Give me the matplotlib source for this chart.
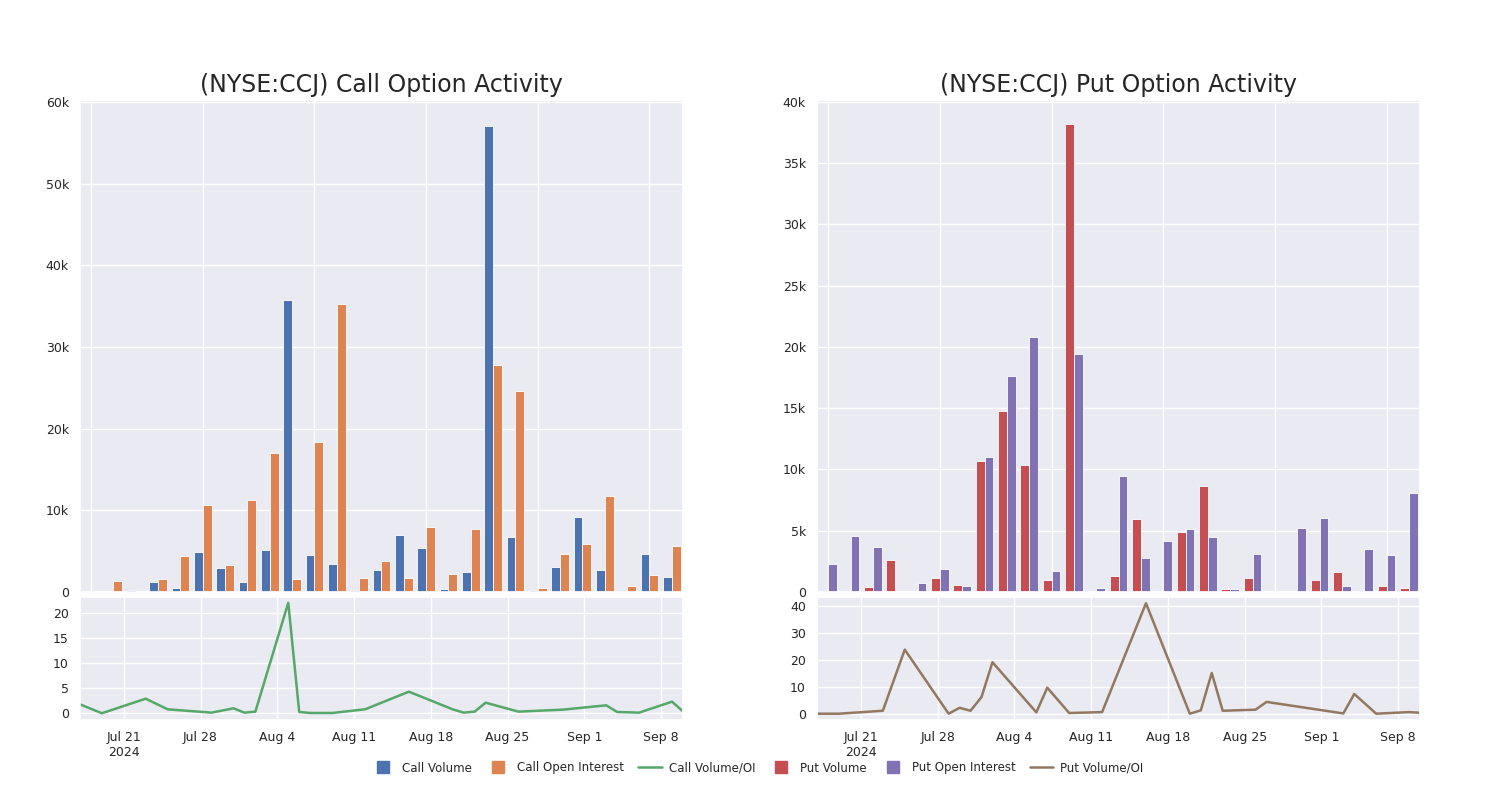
import matplotlib
matplotlib.use("Agg")
import matplotlib.pyplot as plt
import matplotlib.dates as mdates
from matplotlib.lines import Line2D
import numpy as np
import pandas as pd
import seaborn as sns

sns.set_theme(style="darkgrid")
plt.rcParams['font.family'] = ['DejaVu Sans']

# ---------------- data ----------------
n_cat = 27
call_volume = [50, 0, 250, 1200, 500, 4900, 3000, 1200, 5200, 35800, 4500, 3400, 200, 2700,
               7000, 5400, 400, 2500, 57100, 6700, 200, 3100, 9200, 2700, 50, 4650, 1800]
call_oi = [30, 1300, 100, 1550, 4400, 10600, 3300, 11300, 17000, 1600, 18400, 35300, 1750, 3800,
           1700, 7900, 2200, 7750, 27750, 24600, 500, 4600, 5900, 11700, 700, 2100, 5600]

put_volume = [0, 50, 400, 2600, 50, 1150, 550, 10700, 14800, 10400, 950, 38200, 100, 1300,
              5950, 50, 4900, 8650, 270, 1170, 80, 50, 1000, 1660, 30, 520, 350]
put_oi = [2260, 4600, 3650, 100, 750, 1900, 450, 11000, 17600, 20800, 1750, 19450, 330, 9500,
          2800, 4200, 5150, 4450, 270, 3100, 0, 5250, 6050, 460, 3500, 3000, 8100]

call_ratio_dates = ["2024-07-17", "2024-07-19", "2024-07-23", "2024-07-25", "2024-07-29",
                    "2024-07-31", "2024-08-01", "2024-08-02", "2024-08-05", "2024-08-06",
                    "2024-08-07", "2024-08-09", "2024-08-12", "2024-08-16", "2024-08-20",
                    "2024-08-21", "2024-08-22", "2024-08-23", "2024-08-26", "2024-08-30",
                    "2024-09-03", "2024-09-04", "2024-09-06", "2024-09-09", "2024-09-10"]
call_ratio = [1.73, -0.05, 2.86, 0.73, 0.07, 0.93, 0.07, 0.27, 22.0, 0.2, 0.0, 0.0, 0.73,
              4.25, 0.73, 0.07, 0.27, 2.06, 0.27, 0.66, 1.53, 0.2, 0.07, 2.26, 0.33]

put_ratio_dates = ["2024-07-17", "2024-07-19", "2024-07-23", "2024-07-25", "2024-07-29",
                   "2024-07-30", "2024-07-31", "2024-08-01", "2024-08-02", "2024-08-06",
                   "2024-08-07", "2024-08-09", "2024-08-12", "2024-08-16", "2024-08-20",
                   "2024-08-21", "2024-08-22", "2024-08-23", "2024-08-26", "2024-08-27",
                   "2024-09-03", "2024-09-04", "2024-09-06", "2024-09-09", "2024-09-10"]
put_ratio = [0.0, 0.0, 1.1, 23.9, 0.0, 2.2, 1.1, 6.2, 19.2, 0.5, 9.7, 0.25, 0.6, 41.2, 0.0,
             1.25, 15.2, 1.1, 1.5, 4.4, 0.1, 7.35, 0.0, 0.6, 0.35]

date_ticks = ["2024-07-21", "2024-07-28", "2024-08-04", "2024-08-11", "2024-08-18",
              "2024-08-25", "2024-09-01", "2024-09-08"]
date_tick_labels = ["Jul 21\n2024", "Jul 28", "Aug 4", "Aug 11", "Aug 18", "Aug 25",
                    "Sep 1", "Sep 8"]

titles = ["(NYSE:CCJ) Call Option Activity", "(NYSE:CCJ) Put Option Activity"]
legend_labels = ["Call Volume", "Call Open Interest", "Call Volume/OI",
                 "Put Volume", "Put Open Interest", "Put Volume/OI"]

# ---------------- colours ----------------
C_BLUE, C_ORANGE, C_GREEN = "#4C72B0", "#DD8452", "#55A868"
C_RED, C_PURPLE, C_BROWN = "#C44E52", "#8172B3", "#937860"

fig = plt.figure(figsize=(15, 8), dpi=100)

def kfmt(v, pos):
    if v == 0:
        return "0"
    return f"{int(round(v / 1000))}k"

def make_panel(left, vol, oi, c1, c2, ratio_dates, ratio, c3, title, ytop, yticks,
               rlim, rticks):
    ax = fig.add_axes([left, 0.26, 0.402, 0.615])
    x = np.arange(n_cat)
    ax.bar(x - 0.2, vol, width=0.4, color=c1, edgecolor="white", linewidth=0.6)
    ax.bar(x + 0.2, oi, width=0.4, color=c2, edgecolor="white", linewidth=0.6)
    ax.set_xlim(-0.5, n_cat - 0.5)
    ax.set_ylim(0, ytop)
    ax.set_xticks(np.arange(0, n_cat, 5))
    ax.set_xticklabels([])
    ax.tick_params(axis="x", length=0)
    ax.set_yticks(yticks)
    ax.yaxis.set_major_formatter(plt.FuncFormatter(kfmt))
    ax.tick_params(axis="y", labelsize=9, pad=2)
    ax.set_title(title, fontsize=17, pad=6)

    ax2 = fig.add_axes([left, 0.1, 0.402, 0.154])
    d = pd.to_datetime(ratio_dates)
    ax2.plot(d, ratio, color=c3, linewidth=1.8)
    ax2.set_xlim(pd.Timestamp("2024-07-17"), pd.Timestamp("2024-09-10"))
    ax2.set_ylim(*rlim)
    ax2.set_yticks(rticks)
    ax2.set_xticks(pd.to_datetime(date_ticks))
    ax2.set_xticklabels(date_tick_labels)
    ax2.tick_params(axis="both", labelsize=9, pad=2)
    return ax, ax2

make_panel(0.0533, call_volume, call_oi, C_BLUE, C_ORANGE, call_ratio_dates, call_ratio,
           C_GREEN, titles[0], 60250, [0, 10000, 20000, 30000, 40000, 50000, 60000],
           (-1.4, 23.2), [0, 5, 10, 15, 20])
make_panel(0.5447, put_volume, put_oi, C_RED, C_PURPLE, put_ratio_dates, put_ratio,
           C_BROWN, titles[1], 40150, [0, 5000, 10000, 15000, 20000, 25000, 30000, 35000, 40000],
           (-2.35, 43.6), [0, 10, 20, 30, 40])

handles = [
    Line2D([], [], marker="s", linestyle="none", color=C_BLUE, markersize=9),
    Line2D([], [], marker="s", linestyle="none", color=C_ORANGE, markersize=9),
    Line2D([], [], color=C_GREEN, linewidth=1.8),
    Line2D([], [], marker="s", linestyle="none", color=C_RED, markersize=9),
    Line2D([], [], marker="s", linestyle="none", color=C_PURPLE, markersize=9),
    Line2D([], [], color=C_BROWN, linewidth=1.8),
]
fig.legend(handles, legend_labels, loc="center", bbox_to_anchor=(0.505, 0.04), ncol=6,
           frameon=False, fontsize=8.5, handlelength=2.0, columnspacing=1.2, handletextpad=0.6)

fig.savefig("out.png", dpi=100)
